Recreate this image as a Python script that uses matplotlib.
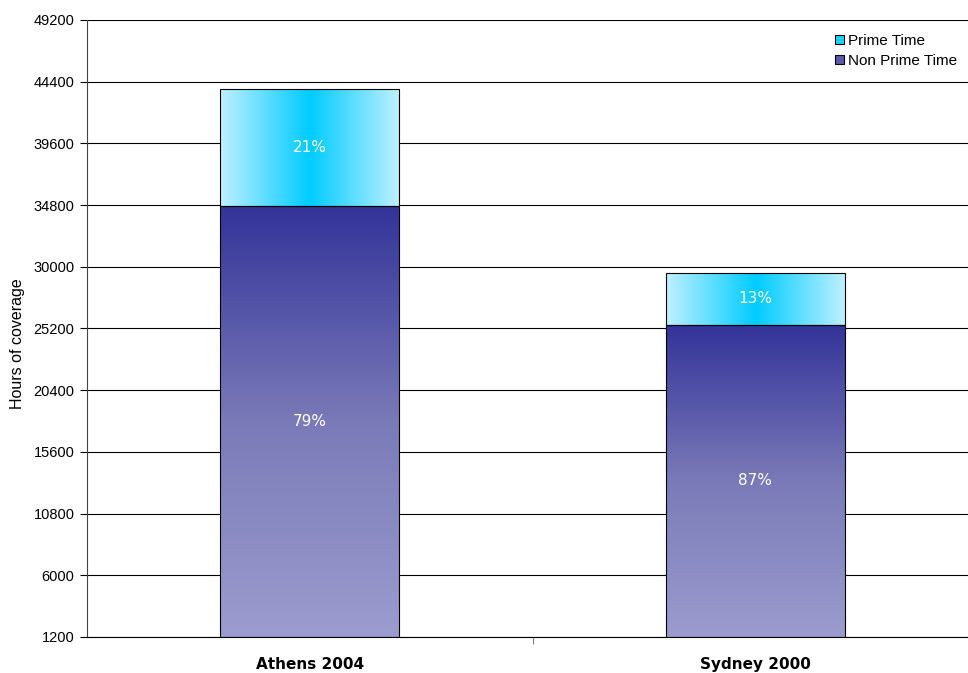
import numpy as np
import matplotlib.pyplot as plt
from matplotlib.patches import Rectangle, Patch
from matplotlib.colors import LinearSegmentedColormap

games = ['Athens 2004', 'Sydney 2000']
non_prime = [34700, 25500]
prime = [9100, 4000]
non_prime_pct = ['79%', '87%']
prime_pct = ['21%', '13%']
yticks = [1200, 6000, 10800, 15600, 20400, 25200, 30000, 34800, 39600, 44400, 49200]

# colour ramps for the two series
cm_non = LinearSegmentedColormap.from_list('non', ['#9c9ccf', '#7a7ab8', '#333399'])
cm_prime = LinearSegmentedColormap.from_list('prime', ['#bff0ff', '#00ccff', '#bff0ff'])

fig = plt.figure(figsize=(9.68, 6.73), dpi=100)
ax = fig.add_axes([0.0899, 0.0535, 0.9101, 0.9168])

ymin, ymax = 1200, 49200
width = 0.402
x = np.arange(len(games))

def grad_bar(ax, xc, y0, y1, cmap, vertical):
    if vertical:
        g = np.linspace(0, 1, 256).reshape(-1, 1)
    else:
        g = np.linspace(0, 1, 256).reshape(1, -1)
    im = ax.imshow(g, cmap=cmap, aspect='auto', origin='lower',
                   extent=[xc - width / 2, xc + width / 2, y0, y1], zorder=2)
    r = Rectangle((xc - width / 2, y0), width, y1 - y0, facecolor='none',
                  edgecolor='black', lw=0.8, zorder=3)
    ax.add_patch(r)
    im.set_clip_path(r)

for i in range(len(games)):
    top1 = non_prime[i]
    top2 = non_prime[i] + prime[i]
    grad_bar(ax, x[i], ymin, top1, cm_non, True)
    grad_bar(ax, x[i], top1, top2, cm_prime, False)
    # labels sit in the middle of the visible part of each segment
    ax.text(x[i], (ymin + top1) / 2, non_prime_pct[i], color='white', ha='center',
            va='center', fontsize=11, zorder=4)
    ax.text(x[i], (top1 + top2) / 2, prime_pct[i], color='white', ha='center',
            va='center', fontsize=11, zorder=4)

ax.set_xlim(-0.5, 1.4775)
ax.set_ylim(ymin, ymax)
ax.set_yticks(yticks)
ax.set_yticklabels([str(v) for v in yticks], fontsize=10.5, family='Liberation Sans')
ax.yaxis.grid(True, color='black', lw=0.8)
ax.set_axisbelow(True)
ax.tick_params(axis='y', direction='out', length=5, pad=4)

ax.set_xticks([0.5])
ax.set_xticklabels([''])
ax.tick_params(axis='x', direction='out', length=5, color='gray')
for i, g in enumerate(games):
    ax.text(x[i], -0.032, g, transform=ax.get_xaxis_transform(), ha='center',
            va='top', fontsize=11, fontweight='bold')

ax.set_ylabel('Hours of coverage', fontsize=11.5, family='Liberation Sans')
ax.yaxis.set_label_coords(-0.07, 0.475)
ax.spines['right'].set_visible(False)
ax.spines['top'].set_visible(False)
ax.spines['left'].set_color('#444444')
ax.spines['bottom'].set_color('black')

handles = [Patch(facecolor='#1ad2ff', edgecolor='black', lw=0.8, label='Prime Time'),
           Patch(facecolor='#5b5ba8', edgecolor='black', lw=0.8, label='Non Prime Time')]
leg = ax.legend(handles=handles, loc='upper right', bbox_to_anchor=(1.003, 1.0),
                frameon=False, prop={'family': 'Liberation Sans', 'size': 11},
                handlelength=0.6, handleheight=0.6, handletextpad=0.25, labelspacing=0.4)

fig.savefig('out.png', dpi=100)
